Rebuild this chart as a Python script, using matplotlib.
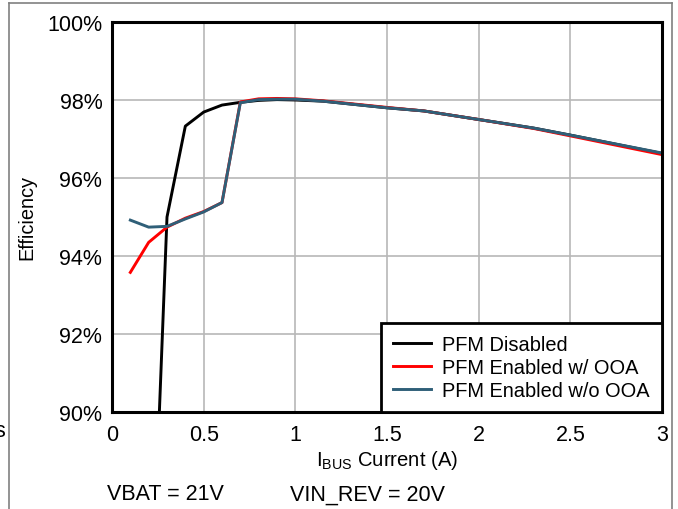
import matplotlib
matplotlib.use('Agg')
import matplotlib.pyplot as plt
from matplotlib.lines import Line2D
from matplotlib.ticker import FuncFormatter

plt.rcParams['font.family'] = ['Liberation Sans', 'DejaVu Sans']
plt.rcParams['font.size'] = 15.5

# Efficiency (%) vs IBUS current (A)
x_disabled = [0.25, 0.3, 0.4, 0.5, 0.6, 0.7, 0.8, 0.9, 1.0, 1.15, 1.5, 1.7, 2.0, 2.3, 2.5, 3.0]
y_disabled = [89.0, 95.0, 97.33, 97.69, 97.87, 97.94, 97.99, 98.01, 98.0, 97.97, 97.8, 97.72, 97.5, 97.28, 97.1, 96.63]

x_ooa = [0.1, 0.2, 0.3, 0.4, 0.5, 0.6, 0.7, 0.8, 0.9, 1.0, 1.15, 1.5, 1.7, 2.0, 2.3, 2.5, 3.0]
y_ooa = [93.58, 94.35, 94.74, 94.97, 95.14, 95.37, 97.95, 98.03, 98.04, 98.03, 97.98, 97.81, 97.72, 97.5, 97.27, 97.08, 96.6]

x_no_ooa = [0.1, 0.2, 0.3, 0.4, 0.5, 0.6, 0.7, 0.8, 0.9, 1.0, 1.15, 1.5, 1.7, 2.0, 2.3, 2.5, 3.0]
y_no_ooa = [94.92, 94.74, 94.76, 94.95, 95.13, 95.37, 97.93, 98.01, 98.02, 98.02, 97.97, 97.8, 97.72, 97.5, 97.28, 97.1, 96.64]

labels = ['PFM Disabled', 'PFM Enabled w/ OOA', 'PFM Enabled w/o OOA']
colors = ['black', '#ff0000', '#2f5f78']

fig = plt.figure(figsize=(6.78, 5.10), dpi=100)
ax = fig.add_axes([0.1652, 0.1902, 0.8112, 0.7647])

ax.plot(x_disabled, y_disabled, color=colors[0], lw=2.1, label=labels[0])
ax.plot(x_ooa, y_ooa, color=colors[1], lw=2.1, label=labels[1])
ax.plot(x_no_ooa, y_no_ooa, color=colors[2], lw=2.1, label=labels[2])

ax.set_xlim(0, 3)
ax.set_ylim(90, 100)
ax.set_xticks([0, 0.5, 1, 1.5, 2, 2.5, 3])
ax.set_xticklabels(['0', '0.5', '1', '1.5', '2', '2.5', '3'])
ax.set_yticks([90, 92, 94, 96, 98, 100])
ax.yaxis.set_major_formatter(FuncFormatter(lambda v, p: '%d%%' % v))
ax.tick_params(axis='x', length=0, pad=9)
ax.tick_params(axis='y', length=0, pad=7)
ax.grid(True, color='#b8b8b8', lw=1.2)
ax.set_axisbelow(True)
for s in ax.spines.values():
    s.set_linewidth(2.2)
    s.set_color('black')

ax.set_xlabel('I$_{\\mathregular{BUS}}$ Current (A)', fontsize=14.6, labelpad=2)
ax.set_ylabel('Efficiency', fontsize=14.4, labelpad=8)

leg = ax.legend(loc='lower right', borderaxespad=0, fancybox=False, fontsize=14.4,
                handlelength=1.9, handletextpad=0.55, labelspacing=0.2,
                borderpad=0.6, framealpha=1)
leg.get_frame().set_edgecolor('black')
leg.get_frame().set_linewidth(2)

fig.text(107 / 678, 1 - 495 / 510, 'VBAT = 21V', va='center', ha='left')
fig.text(290 / 678, 1 - 495 / 510, 'VIN_REV = 20V', va='center', ha='left')
fig.text(5 / 678, 1 - 432 / 510, 's', va='center', ha='right')

# surrounding frame
fx0, fx1, fy = 9 / 678, 672 / 678, 1 - 4 / 510
fig.add_artist(Line2D([fx0, fx1], [fy, fy], color='#808080', lw=1.2))
fig.add_artist(Line2D([fx0, fx0], [0, fy], color='#808080', lw=1.2))
fig.add_artist(Line2D([fx1, fx1], [0, fy], color='#808080', lw=1.2))

fig.savefig('out.png', dpi=100)
